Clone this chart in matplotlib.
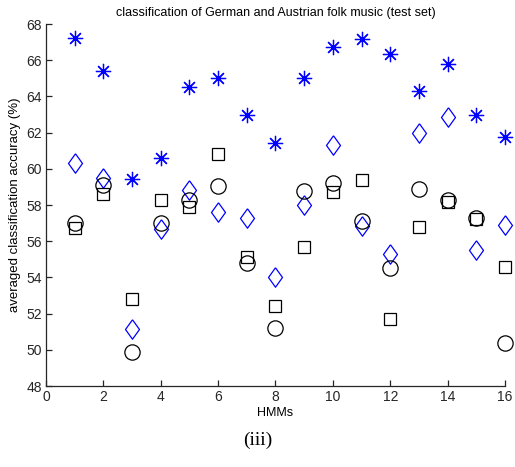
import matplotlib
matplotlib.use("Agg")
import matplotlib.pyplot as plt
import numpy as np

hmms = list(range(1, 17))
stars = [67.2, 65.4, 59.45, 60.6, 64.5, 65.0, 62.95, 61.45, 65.0, 66.75, 67.15, 66.35, 64.3, 65.8, 62.95, 61.75]
diamonds = [60.3, 59.5, 51.15, 56.65, 58.85, 57.6, 57.3, 54.05, 58.0, 61.3, 56.85, 55.3, 62.0, 62.85, 55.5, 56.9]
circles = [57.0, 59.1, 49.9, 57.0, 58.25, 59.05, 54.8, 51.2, 58.75, 59.2, 57.1, 54.5, 58.9, 58.3, 57.3, 50.4]
squares = [56.75, 58.6, 52.8, 58.25, 57.9, 60.8, 55.15, 52.4, 55.7, 58.7, 59.4, 51.7, 56.8, 58.15, 57.25, 54.6]

plt.rcParams['font.family'] = ['Liberation Sans', 'DejaVu Sans']
fig = plt.figure(figsize=(5.15, 4.67), dpi=100)
ax = fig.add_axes([0.0893, 0.1734, 0.8913, 0.7752])

diamond_shape = [(0, 1), (0.72, 0), (0, -1), (-0.72, 0), (0, 1)]

ax.plot(hmms, stars, linestyle='none', marker=(8, 2, 0), markersize=11, color='#0000ff', markeredgewidth=0.9, clip_on=False)
ax.plot(hmms, diamonds, linestyle='none', marker=diamond_shape, markersize=14, markerfacecolor='none', markeredgecolor='#0000ff', markeredgewidth=0.9, clip_on=False)
ax.plot(hmms, circles, linestyle='none', marker='o', markersize=11, markerfacecolor='none', markeredgecolor='black', markeredgewidth=0.9, clip_on=False)
ax.plot(hmms, squares, linestyle='none', marker='s', markersize=9, markerfacecolor='none', markeredgecolor='black', markeredgewidth=0.9, clip_on=False)

ax.set_xlim(0, 16)
ax.set_ylim(48, 68)
ax.set_xticks(np.arange(0, 17, 2))
ax.set_yticks(np.arange(48, 69, 2))
for s in ['top', 'right']:
    ax.spines[s].set_visible(False)
for s in ['left', 'bottom']:
    ax.spines[s].set_color('#262626')
    ax.spines[s].set_linewidth(0.9)
ax.tick_params(direction='in', length=4, width=0.9, labelsize=10, colors='#262626', pad=3)
ax.set_xlabel('HMMs', fontsize=9, labelpad=2)
ax.set_ylabel('averaged classification accuracy (%)', fontsize=9.5, labelpad=4)
ax.set_title('classification of German and Austrian folk music (test set)', fontsize=9, pad=6)

fig.text(0.5, 0.057, '(iii)', ha='center', va='center', fontsize=14, family=['Liberation Serif'])

fig.savefig('out.png', dpi=100)
